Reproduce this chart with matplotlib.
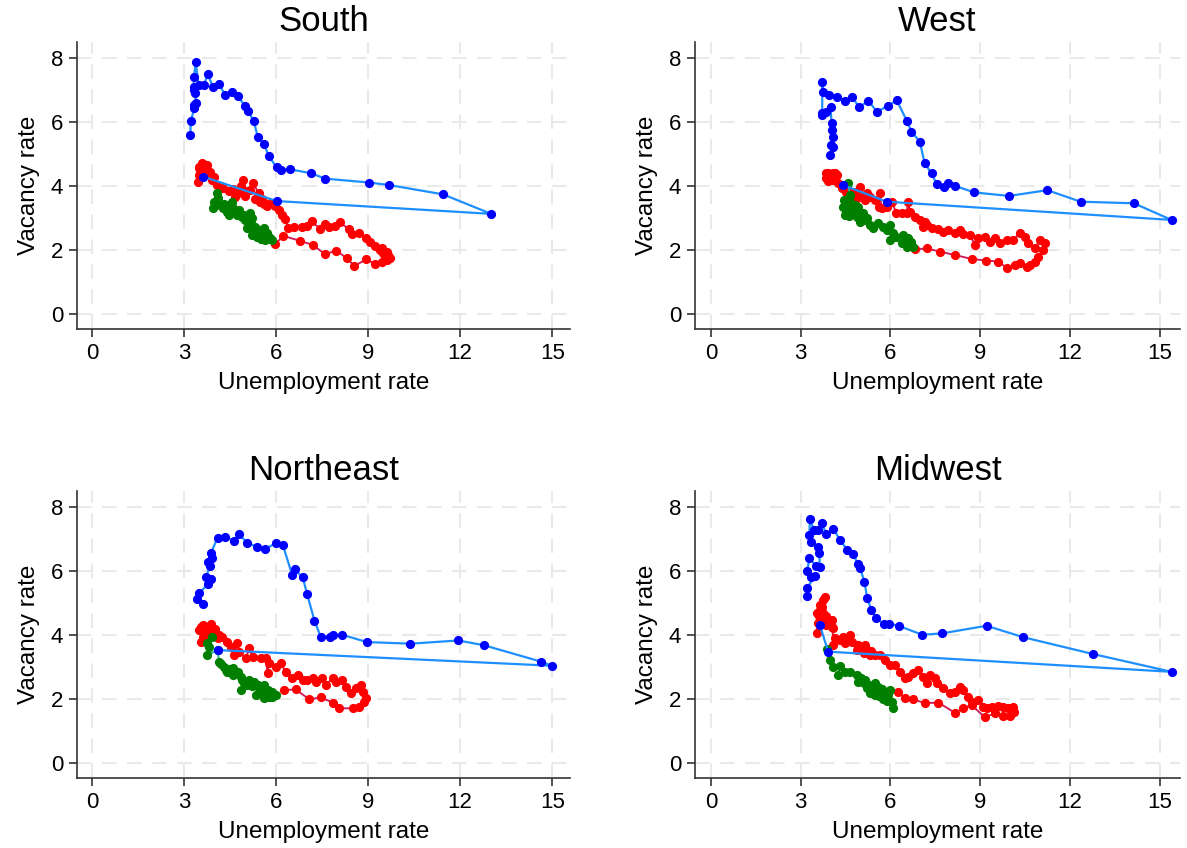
import matplotlib
matplotlib.use("Agg")
import matplotlib.pyplot as plt

plt.rcParams['font.family'] = ['Liberation Sans', 'DejaVu Sans']

# ---- South ----
south_blue_x = [3.63, 6.02, 13.01, 11.44, 9.69, 9.03, 7.60, 7.14, 6.46, 6.17, 6.02, 5.76, 5.60, 5.40,
                5.27, 5.08, 4.98, 4.75, 4.56, 4.33, 4.14, 3.94, 3.77, 3.65, 3.47, 3.38, 3.32, 3.31,
                3.33, 3.36, 3.39, 3.31, 3.33, 3.22, 3.20]
south_blue_y = [4.29, 3.53, 3.13, 3.74, 4.03, 4.11, 4.23, 4.40, 4.52, 4.50, 4.58, 4.94, 5.32, 5.54,
                6.03, 6.35, 6.50, 6.82, 6.95, 6.86, 7.18, 7.09, 7.51, 7.15, 7.16, 7.87, 7.41, 7.10,
                7.00, 6.90, 6.60, 6.53, 6.43, 6.03, 5.59]
south_red_x = [5.97, 6.24, 6.77, 7.19, 7.60, 7.96, 8.31, 8.55, 8.94, 9.23, 9.45, 9.60, 9.70, 9.55,
               9.65, 9.60, 9.45, 9.50, 9.39, 9.23, 9.07, 8.94, 8.71, 8.47, 8.36, 8.07, 7.93, 7.74,
               7.60, 7.44, 7.16, 7.00, 6.84, 6.59, 6.40, 6.30, 6.19, 6.08, 5.97, 5.81, 5.70, 5.60,
               5.55, 5.48, 5.30, 5.43, 5.26, 5.15, 5.00, 4.99, 4.91, 4.85, 4.77, 4.66, 4.60, 4.45,
               4.28, 4.07, 3.90, 3.96, 3.80, 3.85, 3.74, 3.62, 3.58, 3.47, 3.50, 3.55, 3.44, 3.47,
               3.70, 3.63]
south_red_y = [2.19, 2.44, 2.29, 2.16, 1.87, 1.98, 1.74, 1.50, 1.71, 1.56, 1.62, 1.70, 1.75, 1.80,
               1.85, 1.95, 2.05, 1.90, 2.00, 2.13, 2.26, 2.37, 2.54, 2.49, 2.65, 2.88, 2.75, 2.71,
               2.82, 2.65, 2.90, 2.75, 2.71, 2.73, 2.68, 2.96, 3.10, 3.25, 3.36, 3.46, 3.38, 3.45,
               3.60, 3.51, 3.60, 3.77, 4.09, 3.88, 3.70, 3.83, 4.19, 4.00, 3.77, 3.67, 3.90, 3.83,
               3.93, 4.03, 4.20, 4.29, 4.40, 4.45, 4.66, 4.68, 4.71, 4.61, 4.55, 4.40, 4.14, 4.35,
               4.60, 4.50]
south_green_x = [4.07, 3.96, 3.94, 4.12, 4.18, 4.30, 4.28, 4.40, 4.39, 4.50, 4.56, 4.60, 4.45, 4.61,
                 4.72, 4.80, 4.88, 4.95, 4.99, 5.15, 5.21, 5.10, 5.05, 5.21, 5.30, 5.32, 5.43, 5.45,
                 5.59, 5.60, 5.70, 5.75, 5.53, 5.50, 5.37, 5.21, 5.65, 5.70, 5.81, 5.86]
south_green_y = [3.77, 3.51, 3.30, 3.62, 3.41, 3.45, 3.30, 3.35, 3.20, 3.36, 3.51, 3.30, 3.10, 3.20,
                 3.10, 3.25, 3.04, 3.10, 2.94, 3.15, 2.99, 2.85, 2.68, 2.78, 2.60, 2.73, 2.63, 2.55,
                 2.68, 2.55, 2.52, 2.45, 2.47, 2.35, 2.42, 2.47, 2.30, 2.42, 2.37, 2.31]

# ---- West ----
west_blue_x = [4.42, 5.87, 15.39, 14.13, 12.35, 11.24, 9.96, 8.80, 8.17, 7.93, 7.80, 7.54, 7.37, 7.14,
               6.98, 6.70, 6.55, 6.21, 5.92, 5.55, 5.26, 4.96, 4.71, 4.49, 4.21, 3.94, 3.75, 3.72,
               3.72, 3.70, 3.86, 4.00, 4.03, 4.03, 4.09, 4.00, 4.07, 3.98]
west_blue_y = [4.03, 3.51, 2.94, 3.46, 3.51, 3.87, 3.69, 3.80, 4.00, 4.10, 3.96, 4.06, 4.40, 4.71,
               5.39, 5.70, 6.03, 6.68, 6.51, 6.32, 6.67, 6.46, 6.79, 6.67, 6.78, 6.86, 6.93, 7.26,
               6.27, 6.22, 6.32, 6.46, 5.98, 5.75, 5.54, 5.28, 5.21, 4.97]
west_red_x = [6.82, 7.21, 7.65, 8.17, 8.71, 9.19, 9.60, 9.90, 10.16, 10.32, 10.55, 10.66, 10.82, 10.94,
              11.10, 11.16, 10.99, 10.82, 10.60, 10.49, 10.32, 10.10, 9.88, 9.66, 9.49, 9.32, 9.15,
              8.93, 8.82, 8.65, 8.43, 8.32, 8.15, 7.93, 7.76, 7.60, 7.37, 7.21, 7.09, 7.15, 6.98,
              6.82, 6.65, 6.59, 6.54, 6.37, 6.20, 6.04, 5.87, 5.70, 5.65, 5.62, 5.48, 5.31, 5.20,
              5.15, 5.05, 4.98, 4.87, 4.80, 4.70, 4.60, 4.53, 4.37, 4.25, 4.14, 4.05, 4.03, 3.95,
              3.92, 3.85, 3.90, 4.09, 4.15, 4.20, 3.86]
west_red_y = [2.02, 2.05, 1.95, 1.84, 1.72, 1.67, 1.64, 1.43, 1.53, 1.58, 1.46, 1.53, 1.64, 1.79,
              2.00, 2.21, 2.31, 2.05, 2.21, 2.42, 2.54, 2.31, 2.31, 2.23, 2.36, 2.26, 2.42,
              2.36, 2.16, 2.47, 2.50, 2.63, 2.54, 2.63, 2.57, 2.65, 2.68, 2.78, 2.73, 2.89, 2.94,
              3.04, 3.20, 3.51, 3.17, 3.15, 3.15, 3.51, 3.35, 3.30, 3.77, 3.35, 3.56, 3.67, 3.77,
              3.55, 3.70, 3.96, 3.61, 3.80, 3.72, 3.85, 3.82, 3.93, 4.08, 4.24, 4.20, 4.34, 4.30,
              4.40, 4.40, 4.15, 4.42, 4.40, 4.34, 4.24]
west_green_x = [4.59, 4.64, 4.45, 4.53, 4.65, 4.55, 4.42, 4.80, 4.92, 4.70, 4.59, 4.50, 4.76, 4.48,
                4.60, 4.85, 4.87, 5.09, 5.00, 4.98, 5.10, 5.20, 5.31, 5.42, 5.59, 5.76, 5.87, 5.98,
                6.09, 5.98, 6.20, 6.43, 6.59, 6.70, 6.54, 6.37, 6.65, 6.76]
west_green_y = [4.08, 3.72, 3.55, 3.51, 3.50, 3.40, 3.35, 3.40, 3.35, 3.30, 3.25, 3.20, 3.20, 3.09,
                3.05, 3.15, 3.04, 3.15, 3.05, 2.89, 2.95, 2.99, 2.78, 2.68, 2.83, 2.73, 2.63, 2.78,
                2.52, 2.31, 2.42, 2.47, 2.36, 2.26, 2.10, 2.21, 2.16, 2.08]

# ---- Northeast ----
ne_blue_x = [4.09, 14.99, 14.63, 12.78, 11.94, 10.38, 8.96, 8.15, 7.87, 7.75, 7.45, 7.25, 7.01, 6.87,
             6.60, 6.52, 6.22, 5.98, 5.64, 5.38, 5.05, 4.80, 4.62, 4.34, 4.09, 3.87, 3.92, 3.79,
             3.84, 3.71, 3.87, 3.79, 3.49, 3.43, 3.60]
ne_blue_y = [3.53, 3.04, 3.17, 3.68, 3.83, 3.73, 3.78, 4.01, 3.99, 3.95, 3.95, 4.45, 5.28, 5.80,
             6.05, 5.89, 6.81, 6.87, 6.68, 6.76, 6.88, 7.15, 6.94, 7.08, 7.04, 6.55, 6.40, 6.29,
             6.16, 5.80, 5.74, 5.61, 5.30, 5.14, 4.96]
ne_red_x = [6.26, 6.64, 7.08, 7.46, 7.84, 8.06, 8.49, 8.71, 8.87, 8.92, 8.82, 8.76, 8.60, 8.43,
            8.27, 8.16, 7.95, 7.84, 7.62, 7.51, 7.29, 7.19, 7.02, 6.86, 6.70, 6.53, 6.31, 6.15,
            5.99, 5.77, 5.72, 5.66, 5.50, 5.23, 5.12, 5.01, 4.79, 4.74, 4.63, 4.52, 4.41, 4.25,
            4.15, 4.09, 3.98, 4.00, 3.90, 3.76, 3.80, 3.60, 3.55, 3.49, 3.60, 3.54, 3.65, 3.71,
            3.87]
ne_red_y = [2.28, 2.30, 1.99, 2.05, 1.89, 1.71, 1.71, 1.76, 1.92, 2.02, 2.23, 2.44, 2.33, 2.18,
            2.39, 2.60, 2.54, 2.65, 2.44, 2.65, 2.54, 2.65, 2.59, 2.59, 2.75, 2.65, 2.85, 3.12,
            3.01, 3.12, 2.80, 3.27, 3.27, 3.32, 3.58, 3.27, 3.48, 3.74, 3.37, 3.64, 3.79, 3.95,
            4.00, 3.90, 4.05, 4.20, 4.10, 4.26, 4.20, 4.31, 4.25, 4.16, 3.95, 3.79, 4.10, 4.05,
            4.36]
ne_green_x = [3.92, 3.76, 3.81, 3.76, 4.09, 4.14, 4.20, 4.30, 4.35, 4.41, 4.50, 4.58, 4.60, 4.69,
              4.75, 4.85, 4.90, 4.96, 5.05, 5.12, 4.85, 5.20, 5.28, 5.40, 5.45, 5.50, 5.61, 5.34,
              5.65, 5.72, 5.61, 5.77, 5.85, 5.88, 5.99]
ne_green_y = [3.95, 3.74, 3.64, 3.37, 3.53, 3.17, 3.10, 3.01, 2.90, 2.85, 2.95, 2.96, 2.75, 2.80,
              2.85, 2.70, 2.60, 2.49, 2.45, 2.59, 2.28, 2.40, 2.54, 2.45, 2.33, 2.20, 2.44, 2.12,
              2.15, 2.28, 2.02, 2.07, 2.05, 2.23, 2.12]

# ---- Midwest ----
mw_blue_x = [3.64, 3.92, 15.39, 12.75, 10.44, 9.21, 7.71, 7.06, 6.29, 5.96, 5.78, 5.51, 5.36, 5.22,
             5.13, 4.99, 4.91, 4.74, 4.56, 4.31, 4.09, 3.86, 3.70, 3.59, 3.44, 3.31, 3.29, 3.36,
             3.59, 3.62, 3.64, 3.51, 3.29, 3.22, 3.36, 3.48, 3.20, 3.22]
mw_blue_y = [4.31, 3.48, 2.85, 3.41, 3.93, 4.29, 4.05, 4.01, 4.28, 4.36, 4.34, 4.54, 4.78, 5.17,
             5.66, 6.08, 6.23, 6.54, 6.66, 6.97, 7.33, 7.16, 7.49, 7.28, 7.28, 7.63, 7.13, 6.92,
             6.76, 6.55, 6.14, 6.16, 6.40, 6.01, 5.82, 5.84, 5.46, 5.21]
mw_red_x = [6.26, 6.48, 6.76, 7.15, 7.60, 8.15, 8.43, 8.71, 9.15, 9.49, 9.77, 9.99, 10.12, 10.10,
            9.93, 9.77, 9.60, 9.38, 9.21, 9.10, 8.93, 8.71, 8.60, 8.43, 8.32, 8.15, 7.99, 7.76,
            7.54, 7.48, 7.32, 7.21, 7.09, 6.93, 6.76, 6.59, 6.48, 6.31, 6.15, 5.98, 5.81, 5.65,
            5.48, 5.35, 5.31, 5.20, 5.10, 5.15, 5.03, 4.90, 4.87, 4.70, 4.64, 4.60, 4.48, 4.40,
            4.31, 4.14, 4.09, 4.07, 4.03, 4.03, 3.86, 3.85, 3.70, 3.60, 3.53, 3.59, 3.53, 3.64,
            3.75, 3.70, 3.65, 3.75, 3.81]
mw_red_y = [2.23, 2.02, 1.99, 1.87, 1.89, 1.57, 1.71, 1.81, 1.43, 1.55, 1.47, 1.47, 1.60, 1.76,
            1.71, 1.76, 1.78, 1.76, 1.71, 1.76, 1.97, 1.92, 2.07, 2.28, 2.39, 2.23, 2.18, 2.33,
            2.49, 2.65, 2.75, 2.49, 2.70, 2.91, 2.80, 2.70, 2.65, 2.85, 3.06, 3.06, 3.22, 3.38,
            3.38, 3.50, 3.38, 3.53, 3.45, 3.69, 3.58, 3.70, 3.53, 3.79, 4.00, 3.85, 3.74, 3.95,
            3.84, 3.90, 3.69, 4.21, 4.47, 4.26, 4.31, 4.60, 4.52, 4.60, 4.68, 4.37, 4.05, 4.78,
            4.70, 4.89, 4.95, 5.09, 5.20]
mw_green_x = [3.89, 3.98, 4.09, 4.31, 4.25, 4.48, 4.64, 4.87, 4.92, 5.03, 5.10, 5.15, 5.48, 5.26,
              5.20, 5.37, 5.30, 5.40, 5.50, 5.48, 5.59, 5.60, 5.70, 5.70, 5.98, 5.85, 5.81, 5.75,
              5.92, 5.90, 6.04, 6.09]
mw_green_y = [3.56, 3.22, 2.99, 3.03, 2.75, 2.85, 2.85, 2.75, 2.54, 2.65, 2.50, 2.59, 2.49, 2.44,
              2.35, 2.28, 2.20, 2.35, 2.30, 2.13, 2.39, 2.10, 2.18, 2.30, 2.28, 2.20, 2.02, 2.00,
              2.13, 1.95, 1.92, 1.71]

regions = ["South", "West", "Northeast", "Midwest"]
x_ticks = [0, 3, 6, 9, 12, 15]
y_ticks = [0, 2, 4, 6, 8]

fig = plt.figure(figsize=(11.87, 8.48), dpi=100)

rects = [[0.0649, 0.612, 0.4153, 0.3384],
         [0.5855, 0.612, 0.4086, 0.3384],
         [0.0649, 0.0825, 0.4153, 0.3384],
         [0.5855, 0.0825, 0.4086, 0.3384]]
xlims = [(-0.49, 15.58), (-0.53, 15.67), (-0.49, 15.58), (-0.53, 15.67)]

data = [
    (south_red_x, south_red_y, south_green_x, south_green_y, south_blue_x, south_blue_y),
    (west_red_x, west_red_y, west_green_x, west_green_y, west_blue_x, west_blue_y),
    (ne_red_x, ne_red_y, ne_green_x, ne_green_y, ne_blue_x, ne_blue_y),
    (mw_red_x, mw_red_y, mw_green_x, mw_green_y, mw_blue_x, mw_blue_y),
]

for i, name in enumerate(regions):
    ax = fig.add_axes(rects[i])
    rx, ry, gx, gy, bx, by = data[i]
    ax.plot(rx, ry, color='#cc1f5e', lw=1.4, marker='o', ms=5.6,
            mfc='#ff0000', mec='#ff0000', zorder=3)
    ax.plot(gx, gy, color='#1fb59a', lw=1.4, marker='o', ms=5.6,
            mfc='#007f00', mec='#007f00', zorder=4)
    ax.plot(bx, by, color='#1e8fff', lw=1.6, marker='o', ms=5.6,
            mfc='#0000ff', mec='#0000ff', zorder=5)

    ax.set_xlim(*xlims[i])
    ax.set_ylim(-0.47, 8.5)
    ax.set_xticks(x_ticks)
    ax.set_yticks(y_ticks)
    ax.grid(True, color='#e9e9e9', lw=1.5, ls=(0, (7, 5)))
    ax.set_axisbelow(True)
    for s in ['top', 'right']:
        ax.spines[s].set_visible(False)
    for s in ['left', 'bottom']:
        ax.spines[s].set_color('#333333')
        ax.spines[s].set_linewidth(1.2)
    ax.tick_params(direction='out', length=6, width=1.2, color='#333333',
                   labelsize=16, pad=4)
    ax.set_xlabel('Unemployment rate', fontsize=17.5, labelpad=6)
    ax.set_ylabel('Vacancy rate', fontsize=17.5, labelpad=8)
    ax.set_title(name, fontsize=25, pad=8)

fig.savefig('out.png', dpi=100)
